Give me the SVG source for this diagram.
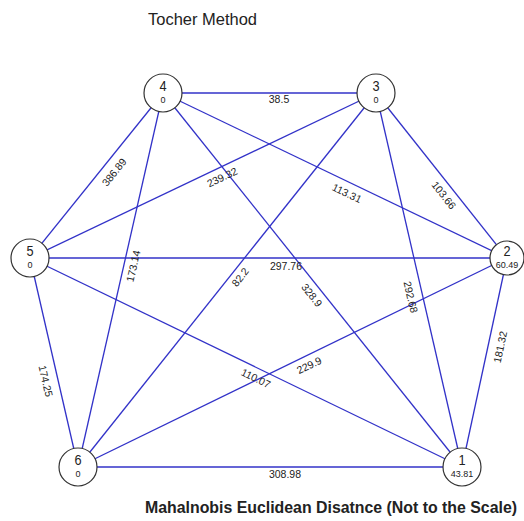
<svg xmlns="http://www.w3.org/2000/svg" width="524" height="521" viewBox="0 0 524 521">
<style>
.e{stroke:#3232c8;stroke-width:1.3;fill:none}
.n circle{fill:#fff;stroke:#333;stroke-width:1.2}
.num{font-family:"Liberation Sans",Arial,sans-serif;font-size:15px;fill:#222;text-anchor:middle}
.val{font-family:"Liberation Sans",Arial,sans-serif;font-size:9px;fill:#222;text-anchor:middle}
.lb{font-family:"Liberation Sans",Arial,sans-serif;font-size:10.5px;fill:#222;text-anchor:middle;dominant-baseline:central}
.t{font-family:"Liberation Sans",Arial,sans-serif;fill:#222}
</style>
<rect width="524" height="521" fill="#fff"/>
<text class="t" x="148" y="25" font-size="17" textLength="109" lengthAdjust="spacingAndGlyphs">Tocher Method</text>
<g id="edges">
<line class="e" x1="163" y1="93" x2="376" y2="93"/>
<line class="e" x1="163" y1="93" x2="30" y2="258"/>
<line class="e" x1="163" y1="93" x2="78" y2="467"/>
<line class="e" x1="163" y1="93" x2="507" y2="258"/>
<line class="e" x1="163" y1="93" x2="462" y2="467"/>
<line class="e" x1="376" y1="93" x2="30" y2="258"/>
<line class="e" x1="376" y1="93" x2="78" y2="467"/>
<line class="e" x1="376" y1="93" x2="507" y2="258"/>
<line class="e" x1="376" y1="93" x2="462" y2="467"/>
<line class="e" x1="30" y1="258" x2="507" y2="258"/>
<line class="e" x1="30" y1="258" x2="462" y2="467"/>
<line class="e" x1="30" y1="258" x2="78" y2="467"/>
<line class="e" x1="78" y1="467" x2="507" y2="258"/>
<line class="e" x1="78" y1="467" x2="462" y2="467"/>
<line class="e" x1="507" y1="258" x2="462" y2="467"/>
<text class="lb" transform="translate(279,99)">38.5</text>
<text class="lb" transform="translate(114,172) rotate(-51.1)">386.89</text>
<text class="lb" transform="translate(222,177) rotate(-25.5)">239.32</text>
<text class="lb" transform="translate(347,193) rotate(25.6)">113.31</text>
<text class="lb" transform="translate(444,195) rotate(51.6)">103.66</text>
<text class="lb" transform="translate(286,266)">297.76</text>
<text class="lb" transform="translate(133,266) rotate(-77.2)">173.14</text>
<text class="lb" transform="translate(240,277) rotate(-51.4)">82.2</text>
<text class="lb" transform="translate(312,295) rotate(51.4)">328.9</text>
<text class="lb" transform="translate(411,297) rotate(77)">292.68</text>
<text class="lb" transform="translate(500,347) rotate(-77.9)">181.32</text>
<text class="lb" transform="translate(46,381) rotate(77.1)">174.25</text>
<text class="lb" transform="translate(256,378) rotate(25.8)">110.07</text>
<text class="lb" transform="translate(309,365) rotate(-26)">229.9</text>
<text class="lb" transform="translate(285,474)">308.98</text>
</g>
<g id="n4" class="n"><circle cx="163" cy="93" r="19"/><text class="num" transform="translate(163,91) scale(0.85,1)">4</text><text class="val" x="163" y="103">0</text></g>
<g id="n3" class="n"><circle cx="376" cy="93" r="19"/><text class="num" transform="translate(376,91) scale(0.85,1)">3</text><text class="val" x="376" y="103">0</text></g>
<g id="n5" class="n"><circle cx="30" cy="258" r="19"/><text class="num" transform="translate(30,256) scale(0.85,1)">5</text><text class="val" x="30" y="268">0</text></g>
<g id="n2" class="n"><circle cx="507" cy="258" r="17"/><text class="num" transform="translate(507,256) scale(0.85,1)">2</text><text class="val" x="507" y="268">60.49</text></g>
<g id="n6" class="n"><circle cx="78" cy="467" r="19"/><text class="num" transform="translate(78,465) scale(0.85,1)">6</text><text class="val" x="78" y="477">0</text></g>
<g id="n1" class="n"><circle cx="462" cy="467" r="19"/><text class="num" transform="translate(462,465) scale(0.85,1)">1</text><text class="val" x="462" y="477">43.81</text></g>
<text class="t" x="145" y="513" font-size="16" font-weight="bold" textLength="372" lengthAdjust="spacingAndGlyphs">Mahalnobis Euclidean Disatnce (Not to the Scale)</text>
</svg>
